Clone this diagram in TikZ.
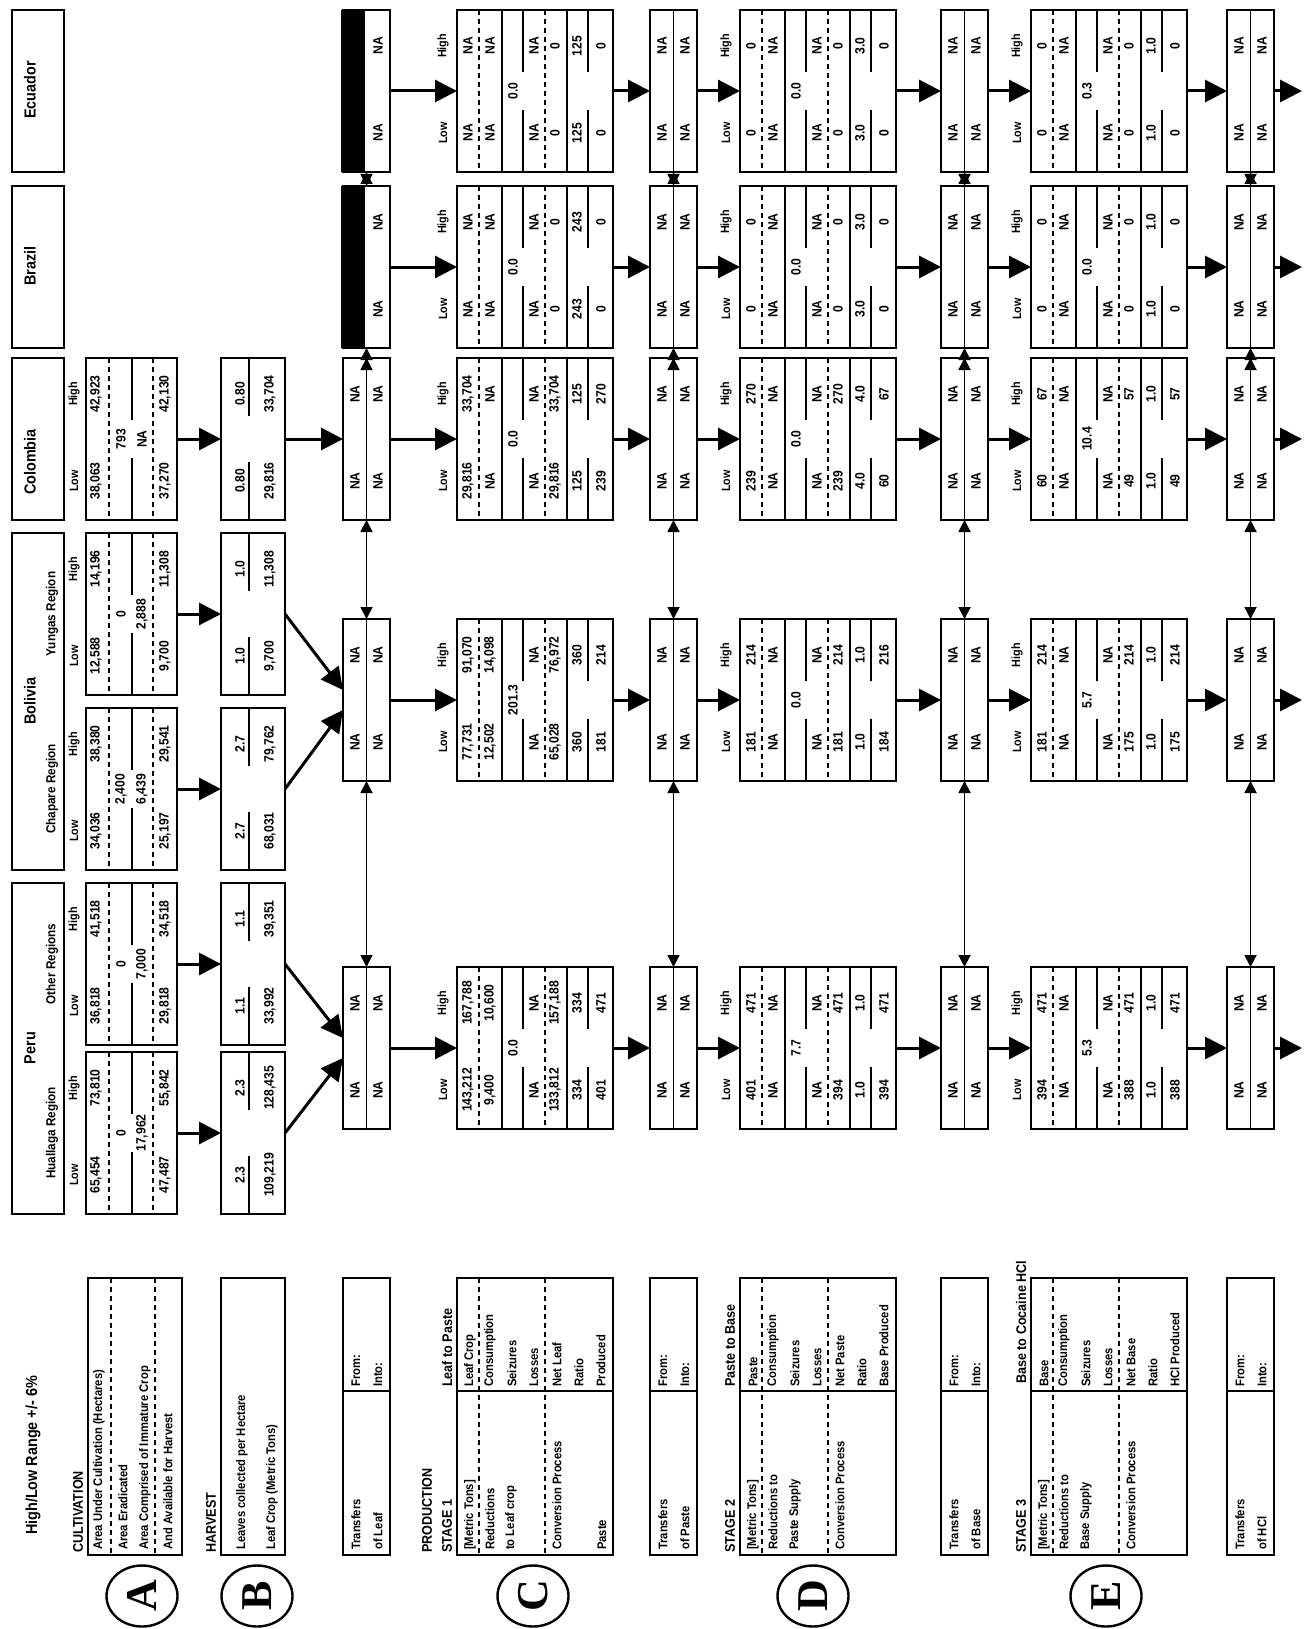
\documentclass[tikz,border=0pt]{standalone}
\usepackage{fontspec}
\setmainfont{Liberation Sans}[FakeStretch=0.9]
\newfontfamily\circfont{Liberation Serif}
\usetikzlibrary{arrows.meta,calc,shapes.geometric}

\newcounter{vn}
\tikzset{
  cbox/.style={draw,line width=2.5pt,inner sep=0pt,outer sep=0pt,anchor=north west},
  sep/.style={line width=1.3pt},
  sepdash/.style={line width=1.3pt,dash pattern=on 5pt off 4pt},
  val/.style={rotate=90,inner sep=0pt,font=\fontsize{13.5}{14}\selectfont\bfseries},
  lh/.style={val,font=\fontsize{12}{13}\selectfont\bfseries},
  leg/.style={val,anchor=west,font=\fontsize{12.5}{13}\selectfont\bfseries},
  head/.style={leg,font=\fontsize{14}{15}\selectfont\bfseries},
  ctry/.style={val,font=\fontsize{16}{17}\selectfont\bfseries},
  regn/.style={val,font=\fontsize{13}{14}\selectfont\bfseries},
  circ/.style={draw,ellipse,line width=2.4pt,minimum width=61pt,minimum height=71pt,inner sep=0pt,rotate=90,
    font=\circfont\bfseries\fontsize{44}{44}\selectfont},
  flow/.style={line width=3pt,-{Triangle[length=22pt,width=22pt]}},
  link/.style={line width=1.8pt,{Triangle[length=12pt,width=12pt]}-{Triangle[length=12pt,width=12pt]}},
}

% one value, low/high pair (box height 162)
\newcommand{\val}[3]{\stepcounter{vn}\node[val] (v\thevn) at ({#1},{#2}) {#3};}
\newcommand{\lohi}[4]{\val{#1}{#2+123}{#3}\val{#1}{#2+36}{#4}}

% cultivation box: name, top, low, high, eradicated, immature, low, high
\newcommand{\cult}[8]{%
  \node[cbox,minimum width=91pt,minimum height=162pt] (#1) at (86,#2) {};
  \draw[sepdash] (109,#2) -- (109,{#2+162}) (153,#2) -- (153,{#2+162});
  \draw[sep] (132,#2) -- (132,{#2+62}) (132,{#2+100}) -- (132,{#2+162});
  \lohi{96}{#2}{#3}{#4}
  \val{121}{#2+81}{#5}\val{142}{#2+81}{#6}
  \lohi{165}{#2}{#7}{#8}
  \stepcounter{vn}\node[lh] (v\thevn) at (74,{#2+123}) {Low};
  \stepcounter{vn}\node[lh] (v\thevn) at (74,{#2+36}) {High};}

% harvest box: name, top, low, high, low, high
\newcommand{\harv}[6]{%
  \node[cbox,minimum width=64pt,minimum height=162pt] (#1) at (221,#2) {};
  \draw[sep] (249,#2) -- (249,{#2+58}) (249,{#2+104}) -- (249,{#2+162});
  \lohi{240}{#2}{#3}{#4}
  \lohi{270}{#2}{#5}{#6}}

% transfer box: name, left, top
\newcommand{\trbox}[3]{%
  \node[cbox,minimum width=47pt,minimum height=162pt] (#1) at (#2,#3) {};
  \draw[sep] ({#2+23.5},#3) -- ({#2+23.5},{#3+162});
  \lohi{#2+12}{#3}{NA}{NA}
  \lohi{#2+35}{#3}{NA}{NA}}

% transfer box with no leaf data
\newcommand{\blkbox}[3]{%
  \fill ({#2-2},#3) rectangle ({#2+22},{#3+162});
  \node[cbox,minimum width=47pt,minimum height=162pt] (#1) at (#2,#3) {};
  \lohi{#2+35}{#3}{NA}{NA}}

% stage box: name, left, top, seizures, six low/high pairs
\newcommand{\stagebox}[5]{%
  \node[cbox,minimum width=156pt,minimum height=162pt] (#1) at (#2,#3) {};
  \foreach \d in {22,88} \draw[sepdash] ({#2+\d},#3) -- ({#2+\d},{#3+162});
  \foreach \d in {45,110} \draw[sep] ({#2+\d},#3) -- ({#2+\d},{#3+162});
  \foreach \d in {66,131} \draw[sep] ({#2+\d},#3) -- ({#2+\d},{#3+62}) ({#2+\d},{#3+100}) -- ({#2+\d},{#3+162});
  \val{#2+56}{#3+81}{#4}
  \foreach \lo/\hi [count=\i] in {#5} {
    \pgfmathsetmacro\d{{11,33,77,98,120,144}[\i-1]}
    \lohi{#2+\d}{#3}{\lo}{\hi}
  }
  \stepcounter{vn}\node[lh] (v\thevn) at ({#2-14},{#3+123}) {Low};
  \stepcounter{vn}\node[lh] (v\thevn) at ({#2-14},{#3+36}) {High};}

\begin{document}
\begin{tikzpicture}[x=1pt,y=-1pt]
\useasboundingbox (0,0) rectangle (1308,1629);

% countries
\node[cbox,minimum width=52pt,minimum height=162pt] (ecu) at (12,10) {};
\node[cbox,minimum width=52pt,minimum height=162pt] (bra) at (12,186) {};
\node[cbox,minimum width=52pt,minimum height=162pt] (col) at (12,358) {};
\node[cbox,minimum width=52pt,minimum height=337pt] (bol) at (12,533) {};
\node[cbox,minimum width=52pt,minimum height=331pt] (per) at (12,883) {};
\node[ctry] (ecuT) at (30,90) {Ecuador};
\node[ctry] (braT) at (30,266) {Brazil};
\node[ctry] (colT) at (30,462) {Colombia};
\node[ctry] (bolT) at (30,701) {Bolivia};
\node[ctry] (perT) at (30,1048) {Peru};
\node[regn] (yunT) at (52,614) {Yungas Region};
\node[regn] (chaT) at (52,789) {Chapare Region};
\node[regn] (othT) at (52,964) {Other Regions};
\node[regn] (huaT) at (52,1133) {Huallaga Region};

% cultivation and harvest
\cult{cultCol}{358}{38{,}063}{42{,}923}{793}{NA}{37{,}270}{42{,}130}
\cult{cultYun}{533}{12{,}588}{14{,}196}{0}{2{,}888}{9{,}700}{11{,}308}
\cult{cultCha}{708}{34{,}036}{38{,}380}{2{,}400}{6{,}439}{25{,}197}{29{,}541}
\cult{cultOth}{883}{36{,}818}{41{,}518}{0}{7{,}000}{29{,}818}{34{,}518}
\cult{cultHua}{1052}{65{,}454}{73{,}810}{0}{17{,}962}{47{,}487}{55{,}842}
\harv{harvCol}{358}{0.80}{0.80}{29{,}816}{33{,}704}
\harv{harvYun}{533}{1.0}{1.0}{9{,}700}{11{,}308}
\harv{harvCha}{708}{2.7}{2.7}{68{,}031}{79{,}762}
\harv{harvOth}{883}{1.1}{1.1}{33{,}992}{39{,}351}
\harv{harvHua}{1052}{2.3}{2.3}{109{,}219}{128{,}435}

% transfers
\blkbox{eTL}{343}{10}
\blkbox{zTL}{343}{186}
\trbox{cTL}{343}{358}
\trbox{bTL}{343}{619}
\trbox{pTL}{343}{967}
\foreach \k/\y in {e/10,z/186,c/358,b/619,p/967} {
  \trbox{\k TP}{650}{\y}
  \trbox{\k TB}{941}{\y}
  \trbox{\k TH}{1227}{\y}
  \coordinate (\k out) at (1302,{\y+81});
}

% production stages
\stagebox{pS1}{457}{967}{0.0}{143{,}212/167{,}788,9{,}400/10{,}600,NA/NA,133{,}812/157{,}188,334/334,401/471}
\stagebox{bS1}{457}{619}{201.3}{77{,}731/91{,}070,12{,}502/14{,}098,NA/NA,65{,}028/76{,}972,360/360,181/214}
\stagebox{cS1}{457}{358}{0.0}{29{,}816/33{,}704,NA/NA,NA/NA,29{,}816/33{,}704,125/125,239/270}
\stagebox{zS1}{457}{186}{0.0}{NA/NA,NA/NA,NA/NA,0/0,243/243,0/0}
\stagebox{eS1}{457}{10}{0.0}{NA/NA,NA/NA,NA/NA,0/0,125/125,0/0}
\stagebox{pS2}{740}{967}{7.7}{401/471,NA/NA,NA/NA,394/471,1.0/1.0,394/471}
\stagebox{bS2}{740}{619}{0.0}{181/214,NA/NA,NA/NA,181/214,1.0/1.0,184/216}
\stagebox{cS2}{740}{358}{0.0}{239/270,NA/NA,NA/NA,239/270,4.0/4.0,60/67}
\stagebox{zS2}{740}{186}{0.0}{0/0,NA/NA,NA/NA,0/0,3.0/3.0,0/0}
\stagebox{eS2}{740}{10}{0.0}{0/0,NA/NA,NA/NA,0/0,3.0/3.0,0/0}
\stagebox{pS3}{1031}{967}{5.3}{394/471,NA/NA,NA/NA,388/471,1.0/1.0,388/471}
\stagebox{bS3}{1031}{619}{5.7}{181/214,NA/NA,NA/NA,175/214,1.0/1.0,175/214}
\stagebox{cS3}{1031}{358}{10.4}{60/67,NA/NA,NA/NA,49/57,1.0/1.0,49/57}
\stagebox{zS3}{1031}{186}{0.0}{0/0,NA/NA,NA/NA,0/0,1.0/1.0,0/0}
\stagebox{eS3}{1031}{10}{0.3}{0/0,NA/NA,NA/NA,0/0,1.0/1.0,0/0}

% flows
\foreach \r in {Col,Yun,Cha,Oth,Hua} \draw[flow] (cult\r.east) -- (harv\r.west);
\draw[flow] (harvCol.east) -- (cTL.west);
\draw[flow] (harvYun.east) -- ($(bTL.west)+(0,-10)$);
\draw[flow] (harvCha.east) -- ($(bTL.west)+(0,10)$);
\draw[flow] (harvOth.east) -- ($(pTL.west)+(0,-10)$);
\draw[flow] (harvHua.east) -- ($(pTL.west)+(0,10)$);
\foreach \k in {p,b,c,z,e} {
  \draw[flow] (\k TL.east) -- (\k S1.west);
  \draw[flow] (\k S1.east) -- (\k TP.west);
  \draw[flow] (\k TP.east) -- (\k S2.west);
  \draw[flow] (\k S2.east) -- (\k TB.west);
  \draw[flow] (\k TB.east) -- (\k S3.west);
  \draw[flow] (\k S3.east) -- (\k TH.west);
  \draw[flow] (\k TH.east) -- (\k out);
}
\foreach \col in {TL,TP,TB,TH} {
  \draw[link] (p\col.north) -- (b\col.south);
  \draw[link] (b\col.north) -- (c\col.south);
  \draw[link] (c\col.north) -- (z\col.south);
  \draw[link] (z\col.north) -- (e\col.south);
}

% legend
\node[head,font=\fontsize{16}{17}\selectfont\bfseries] (ttl) at (33,1535) {High/Low Range +/- 6\%};
\node[head] (hCult) at (78,1553) {CULTIVATION};
\node[cbox,minimum width=94pt,minimum height=277pt] (legA) at (88,1278) {};
\draw[sepdash] (111,1278) -- (111,1555) (155,1278) -- (155,1555);
\node[leg] (la1) at (99,1550) {Area Under Cultivation (Hectares)};
\node[leg] (la2) at (123,1550) {Area Eradicated};
\node[leg] (la3) at (145,1550) {Area Comprised of Immature Crop};
\node[leg] (la4) at (168,1550) {And Available for Harvest};

\node[head] (hHarv) at (211,1553) {HARVEST};
\node[cbox,minimum width=64pt,minimum height=277pt] (legB) at (221,1278) {};
\node[leg] (lb1) at (242,1550) {Leaves collected per Hectare};
\node[leg] (lb2) at (272,1550) {Leaf Crop (Metric Tons)};

\foreach \x/\w in {343/Leaf,650/Paste,941/Base,1227/HCl} {
  \node[cbox,minimum width=47pt,minimum height=277pt] (leg\w) at (\x,1278) {};
  \draw[line width=2pt] (\x,1391) -- ({\x+47},1391);
  \node[leg] (lt\w) at ({\x+13},1550) {Transfers};
  \node[leg] (lo\w) at ({\x+35},1550) {of \w};
  \node[leg] (lf\w) at ({\x+13},1387) {From:};
  \node[leg] (li\w) at ({\x+35},1387) {Into:};
}

\foreach \x/\s in {457/C,740/D,1031/E} {
  \node[cbox,minimum width=156pt,minimum height=277pt] (leg\s) at (\x,1278) {};
  \draw[line width=2pt] (\x,1391) -- ({\x+156},1391);
  \draw[sepdash] ({\x+22},1278) -- ({\x+22},1555) ({\x+88},1278) -- ({\x+88},1555);
  \node[leg] (lm\s) at ({\x+13},1550) {[Metric Tons]};
  \node[leg] (lp\s) at ({\x+100},1550) {Conversion Process};
  \node[leg] (lc\s) at ({\x+33},1387) {Consumption};
  \node[leg] (ls\s) at ({\x+55},1387) {Seizures};
  \node[leg] (ll\s) at ({\x+77},1387) {Losses};
  \node[leg] (lr\s) at ({\x+122},1387) {Ratio};
}
\node[leg] (lC1) at (490,1550) {Reductions};
\node[leg] (lC2) at (511,1550) {to Leaf crop};
\node[leg] (lC3) at (602,1550) {Paste};
\node[leg] (lC4) at (470,1387) {Leaf Crop};
\node[leg] (lC5) at (557,1387) {Net Leaf};
\node[leg] (lC6) at (601,1387) {Produced};
\node[leg] (lD1) at (773,1550) {Reductions to};
\node[leg] (lD2) at (795,1550) {Paste Supply};
\node[leg] (lD4) at (753,1387) {Paste};
\node[leg] (lD5) at (840,1387) {Net Paste};
\node[leg] (lD6) at (884,1387) {Base Produced};
\node[leg] (lE1) at (1064,1550) {Reductions to};
\node[leg] (lE2) at (1086,1550) {Base Supply};
\node[leg] (lE4) at (1044,1387) {Base};
\node[leg] (lE5) at (1131,1387) {Net Base};
\node[leg] (lE6) at (1175,1387) {HCl Produced};

\node[head] (hProd) at (427,1553) {PRODUCTION};
\node[head] (hS1) at (447,1553) {STAGE 1};
\node[head] (hS1b) at (447,1387) {Leaf to Paste};
\node[head] (hS2) at (730,1553) {STAGE 2};
\node[head] (hS2b) at (730,1387) {Paste to Base};
\node[head] (hS3) at (1021,1553) {STAGE 3};
\node[head] (hS3b) at (1021,1384) {Base to Cocaine HCl};

\node[circ] (cA) at (142,1596) {A};
\node[circ] (cB) at (257,1596) {B};
\node[circ] (cC) at (533,1596) {C};
\node[circ] (cD) at (813,1596) {D};
\node[circ] (cE) at (1106,1596) {E};
\end{tikzpicture}
\end{document}
